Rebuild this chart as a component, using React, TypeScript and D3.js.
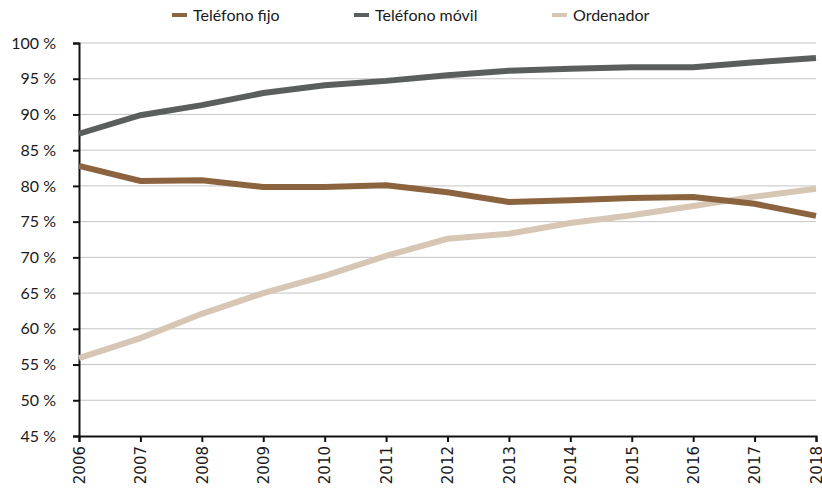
import * as d3 from "d3";
import { useEffect, useRef } from "react";

const years = [2006, 2007, 2008, 2009, 2010, 2011, 2012, 2013, 2014, 2015, 2016, 2017, 2018];
const fijo = [82.8, 80.7, 80.8, 79.85, 79.85, 80.1, 79.1, 77.75, 78.0, 78.3, 78.45, 77.5, 75.8];
const movil = [87.3, 89.9, 91.3, 93.0, 94.1, 94.7, 95.5, 96.1, 96.4, 96.6, 96.6, 97.3, 97.9];
const ordenador = [55.9, 58.7, 62.1, 65.0, 67.4, 70.2, 72.6, 73.3, 74.8, 75.9, 77.2, 78.5, 79.6];
const yTicks = [45, 50, 55, 60, 65, 70, 75, 80, 85, 90, 95, 100];

const series = [
  { name: "Teléfono fijo", values: fijo, color: "#8b633f" },
  { name: "Teléfono móvil", values: movil, color: "#5a5f5d" },
  { name: "Ordenador", values: ordenador, color: "#d6c6b3" },
];

export default function App() {
  const svgRef = useRef<SVGSVGElement>(null);

  useEffect(() => {
    const svg = d3.select(svgRef.current);
    svg.selectAll("*").remove();

    const left = 79;
    const right = 816;
    const top = 43;
    const bottom = 436;

    const x = d3.scaleLinear().domain([2006, 2018]).range([left, right]);
    const y = d3.scaleLinear().domain([45, 100]).range([bottom, top]);

    // Gridlines
    svg
      .append("g")
      .selectAll("line")
      .data(yTicks.filter((t) => t > 45))
      .join("line")
      .attr("x1", left)
      .attr("x2", right)
      .attr("y1", (d) => y(d))
      .attr("y2", (d) => y(d))
      .attr("stroke", "#c4c4c4")
      .attr("stroke-width", 1);

    // Y axis
    const yAxis = svg
      .append("g")
      .attr("transform", `translate(${left},0)`)
      .call(
        d3
          .axisLeft(y)
          .tickValues(yTicks)
          .tickSize(6)
          .tickPadding(17)
          .tickFormat((d) => `${d} %`)
      );
    yAxis.select(".domain").attr("stroke", "#111").attr("stroke-width", 2);
    yAxis.selectAll(".tick line").attr("stroke", "#111").attr("stroke-width", 2);
    yAxis
      .selectAll(".tick text")
      .attr("fill", "#1a1a1a")
      .attr("font-family", "Lato, 'Open Sans', sans-serif")
      .attr("font-size", 16);

    // X axis
    const xAxis = svg
      .append("g")
      .attr("transform", `translate(0,${bottom})`)
      .call(
        d3
          .axisBottom(x)
          .tickValues(years)
          .tickSize(6)
          .tickFormat((d) => String(d))
      );
    xAxis.select(".domain").attr("stroke", "#111").attr("stroke-width", 2);
    xAxis.selectAll(".tick line").attr("stroke", "#111").attr("stroke-width", 2);
    xAxis
      .selectAll(".tick text")
      .attr("fill", "#1a1a1a")
      .attr("font-family", "'DejaVu Sans', sans-serif")
      .attr("font-size", 15)
      .attr("transform", "rotate(-90)")
      .attr("text-anchor", "end")
      .attr("x", -10)
      .attr("y", 0)
      .attr("dy", "0.35em");

    // Lines
    const line = d3
      .line<number>()
      .x((_, i) => x(years[i]))
      .y((d) => y(d));

    svg
      .append("g")
      .selectAll("path")
      .data([series[2], series[0], series[1]])
      .join("path")
      .attr("d", (s) => line(s.values))
      .attr("fill", "none")
      .attr("stroke", (s) => s.color)
      .attr("stroke-width", 6);

    // Legend
    const legendX = [172, 354, 552];
    const legend = svg
      .append("g")
      .selectAll("g")
      .data(series)
      .join("g")
      .attr("transform", (_, i) => `translate(${legendX[i]},15)`);
    legend
      .append("line")
      .attr("x1", 0)
      .attr("x2", 15)
      .attr("stroke", (s) => s.color)
      .attr("stroke-width", 4);
    legend
      .append("text")
      .attr("x", 21)
      .attr("dy", "0.35em")
      .attr("fill", "#1a1a1a")
      .attr("font-family", "Lato, 'Open Sans', sans-serif")
      .attr("font-size", 16)
      .text((s) => s.name);
  }, []);

  return (
    <div style={{ position: "absolute", left: 0, top: 0 }}>
      <svg ref={svgRef} width={822} height={490} style={{ display: "block" }} />
    </div>
  );
}
